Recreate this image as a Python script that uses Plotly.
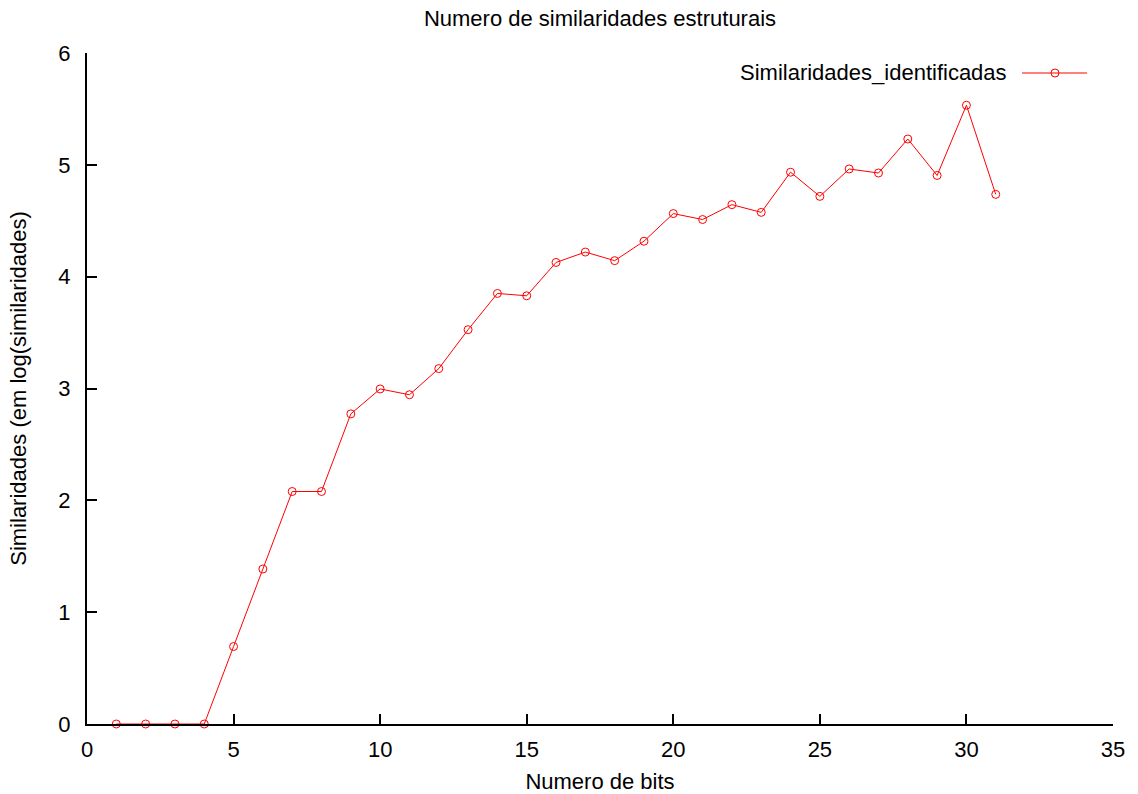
import plotly.graph_objects as go

bits = list(range(1, 32))
similaridades = [0, 0, 0, 0, 0.693, 1.386, 2.079, 2.079, 2.773, 2.996,
                 2.944, 3.178, 3.526, 3.850, 3.829, 4.127, 4.220, 4.143, 4.317, 4.564,
                 4.511, 4.644, 4.575, 4.934, 4.718, 4.963, 4.927, 5.231, 4.905, 5.533,
                 4.736]
series_name = "Similaridades_identificadas"
x_ticks = [0, 5, 10, 15, 20, 25, 30, 35]
y_ticks = [0, 1, 2, 3, 4, 5, 6]

RED = "#ff0000"
FONT = "Liberation Sans, Arial, sans-serif"

fig = go.Figure()
fig.add_trace(go.Scatter(
    x=bits, y=similaridades, mode="lines+markers", name=series_name,
    line=dict(color=RED, width=1),
    marker=dict(symbol="circle-open", size=8, color=RED, line=dict(width=1, color=RED)),
    cliponaxis=False, showlegend=False,
))

L, R, T, B = 87, 25, 53, 70
W, H = 1138, 794
pw, ph = W - L - R, H - T - B

def px2paper(px, py):
    return (px - L) / pw, (H - B - py) / ph

# custom legend (gnuplot style: text then sample)
lx0, ly = px2paper(1022, 73)
lx1, _ = px2paper(1087, 73)
mx, _ = px2paper(1055, 73)
tx, _ = px2paper(1009, 73)
fig.add_shape(type="line", xref="paper", yref="paper", x0=lx0, x1=lx1, y0=ly, y1=ly,
              line=dict(color=RED, width=1))
fig.add_shape(type="circle", xref="paper", yref="paper", xsizemode="pixel", ysizemode="pixel",
              xanchor=mx, yanchor=ly, x0=-4, x1=4, y0=-4, y1=4,
              line=dict(color=RED, width=1), fillcolor="rgba(0,0,0,0)")
fig.add_annotation(xref="paper", yref="paper", x=tx, y=ly, text=series_name,
                   showarrow=False, xanchor="right", yanchor="middle",
                   font=dict(family=FONT, size=22, color="black"))

fig.update_layout(
    width=W, height=H,
    margin=dict(l=L, r=R, t=T, b=B, autoexpand=False),
    paper_bgcolor="white", plot_bgcolor="white",
    font=dict(family=FONT, color="black"),
    title=dict(text="Numero de similaridades estruturais", x=(L + pw / 2) / W,
               xanchor="center", y=1 - 18 / H, yanchor="middle",
               font=dict(family=FONT, size=22)),
    xaxis=dict(range=[0, 35], tickvals=x_ticks, ticks="inside", ticklen=10, tickwidth=1.5,
               tickcolor="black", showline=True, linecolor="black", linewidth=2,
               showgrid=False, zeroline=False, mirror=False, ticklabelstandoff=5,
               automargin=False,
               tickfont=dict(size=22, family=FONT),
               title=dict(text="Numero de bits", font=dict(size=22, family=FONT), standoff=14)),
    yaxis=dict(range=[0, 6], tickvals=y_ticks, ticks="inside", ticklen=10, tickwidth=1.5,
               tickcolor="black", showline=True, linecolor="black", linewidth=2,
               showgrid=False, zeroline=False, mirror=False, ticklabelstandoff=10,
               automargin=False,
               tickfont=dict(size=22, family=FONT),
               title=dict(text="Similaridades (em log(similaridades)", font=dict(size=22, family=FONT),
                          standoff=26)),
)

fig.write_html("out.html")
